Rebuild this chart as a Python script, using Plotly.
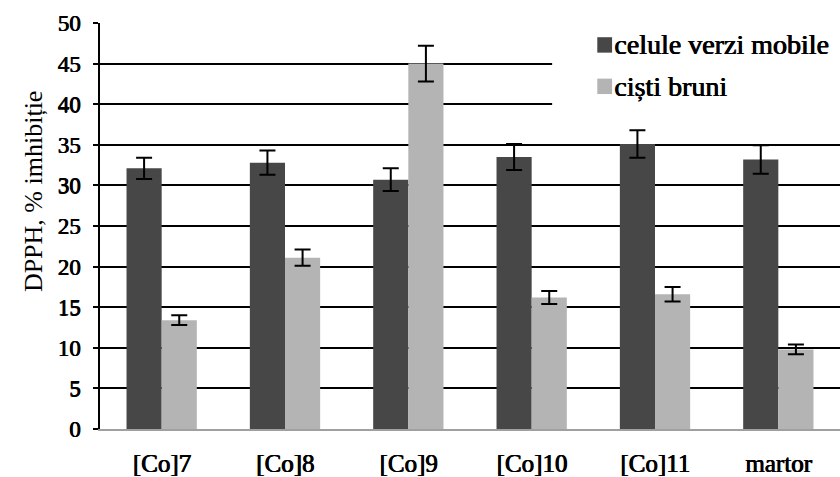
import plotly.graph_objects as go

# Antioxidant activity (DPPH inhibition) by sample and cell form
categories = ["[Co]7", "[Co]8", "[Co]9", "[Co]10", "[Co]11", "martor"]
series_names = ["celule verzi mobile", "ciști bruni"]
green_cells = [32.1, 32.8, 30.7, 33.5, 35.1, 33.2]
green_err = [1.3, 1.5, 1.4, 1.6, 1.7, 1.75]
brown_cysts = [13.4, 21.1, 45.0, 16.2, 16.6, 9.8]
brown_err = [0.6, 1.0, 2.2, 0.8, 0.9, 0.6]
y_ticks = [0, 5, 10, 15, 20, 25, 30, 35, 40, 45, 50]
y_title = "DPPH, % imhibiție"

colors = ["#474747", "#b4b4b4"]
serif = "Liberation Serif, serif"
# a thin text shadow thickens the serif strokes into a bold look
heavy = "0.8px 0 0 black, 0.4px 0.3px 0 black"

fig = go.Figure()
for name, vals, errs, col in zip(series_names, [green_cells, brown_cysts],
                                 [green_err, brown_err], colors):
    fig.add_trace(go.Bar(
        x=categories, y=vals, name=name, marker=dict(color=col, line=dict(width=0)),
        error_y=dict(type="data", array=errs, visible=True,
                     color="black", thickness=2, width=8),
        showlegend=False,
    ))

# white panel behind the legend, hiding the upper gridlines there
fig.add_shape(type="rect", xref="paper", yref="y", x0=0.611, x1=1.0, y0=38.6, y1=51,
              fillcolor="white", line=dict(width=0), layer="above")

# legend swatches and labels
leg_y = [47.3, 42.2]
for name, col, yy in zip(series_names, colors, leg_y):
    fig.add_shape(type="rect", xref="paper", yref="y",
                  x0=0.672, x1=0.692, y0=yy - 0.95, y1=yy + 0.95,
                  fillcolor=col, line=dict(width=0), layer="above")
    fig.add_annotation(text=name, xref="paper", yref="y",
                       x=0.692, y=yy, xanchor="left", yanchor="middle",
                       showarrow=False,
                       font=dict(family=serif, size=28, color="black", shadow=heavy))

fig.add_annotation(text=y_title, xref="paper", yref="paper", x=-0.0905, y=0.586,
                   textangle=-90, showarrow=False, xanchor="center", yanchor="middle",
                   font=dict(family=serif, size=26, color="black"))

fig.update_layout(
    width=840, height=477,
    margin=dict(l=100, r=0, t=23, b=48),
    paper_bgcolor="white", plot_bgcolor="white",
    barmode="group", bargap=0.43, bargroupgap=0,
    font=dict(family=serif, color="black"),
)
fig.update_xaxes(
    showline=True, linecolor="#a0a0a0", linewidth=2, ticks="",
    tickfont=dict(family=serif, size=25, color="black", shadow=heavy),
    ticklabelstandoff=11, showgrid=False,
)
fig.update_yaxes(
    range=[0, 50], tickvals=y_ticks, showgrid=True, gridcolor="black", gridwidth=2,
    zeroline=False, showline=True, linecolor="black", linewidth=2,
    ticks="outside", ticklen=5, tickwidth=2, tickcolor="black",
    tickfont=dict(family=serif, size=23, color="black", shadow=heavy),
    ticklabelstandoff=8,
)

fig.write_html("out.html")
